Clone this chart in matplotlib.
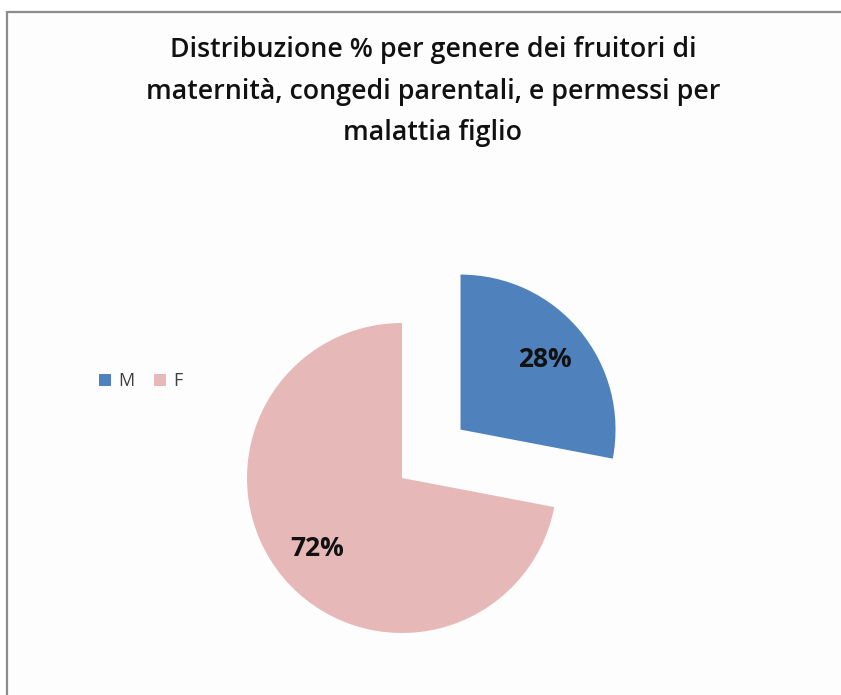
import matplotlib
matplotlib.use("Agg")
import matplotlib.pyplot as plt
from matplotlib.patches import Rectangle
from matplotlib.lines import Line2D

## DATI

categorie = ["M", "F"]
percentuali = [28, 72]
colori = ["#4F81BD", "#E6B9B8"]
titolo = ("Distribuzione % per genere dei fruitori di\n"
          "maternità, congedi parentali, e permessi per\n"
          "malattia figlio")

## FIGURA

W, H = 841, 695
fig = plt.figure(figsize=(W / 100, H / 100), dpi=100)
fig.patch.set_facecolor("white")

# cornice del grafico (esce fuori a destra e in basso)
cornice = Rectangle((7 / W, -0.1), 1.2, 1 - 12 / H + 0.1, transform=fig.transFigure,
                    facecolor="#fdfdfd", edgecolor="#8c8c8c", linewidth=1.6, zorder=-1)
fig.patches.append(cornice)

# assi in unità di raggio: centro torta a (402, 478) px, raggio 155 px
cx, cy, r = 402, H - 478, 155
ax = fig.add_axes([0, 0, 1, 1])

wedges, testi, autotesti = ax.pie(percentuali, labels=None, colors=colori,
                                  startangle=90, counterclock=False,
                                  explode=[0.49, 0], radius=1,
                                  autopct=lambda p: "%d%%" % round(p),
                                  pctdistance=0.71,
                                  wedgeprops=dict(linewidth=0))
for t in autotesti:
    t.set_fontsize(19)
    t.set_fontweight("bold")
    t.set_fontfamily("Open Sans")
    t.set_color("#111111")

ax.set_xlim(-cx / r, (W - cx) / r)
ax.set_ylim(-cy / r, (H - cy) / r)
ax.set_aspect("equal")
ax.axis("off")

fig.text(433 / W, 1 - 91.5 / H, titolo, ha="center", va="center",
         fontsize=19.3, fontweight="semibold", family="Open Sans",
         linespacing=1.66, color="#111111")

## LEGENDA

handles = [Line2D([], [], marker="s", linestyle="", markersize=8,
                  markerfacecolor=c, markeredgewidth=0) for c in colori]
fig.legend(handles, categorie, loc="center", bbox_to_anchor=(141 / W, 1 - 381 / H),
           ncol=2, frameon=False, handlelength=0.6, handletextpad=0.45,
           columnspacing=1.1, prop={"family": "Open Sans", "size": 13},
           labelcolor="#404040")

fig.savefig("out.png", dpi=100, facecolor=fig.get_facecolor())
